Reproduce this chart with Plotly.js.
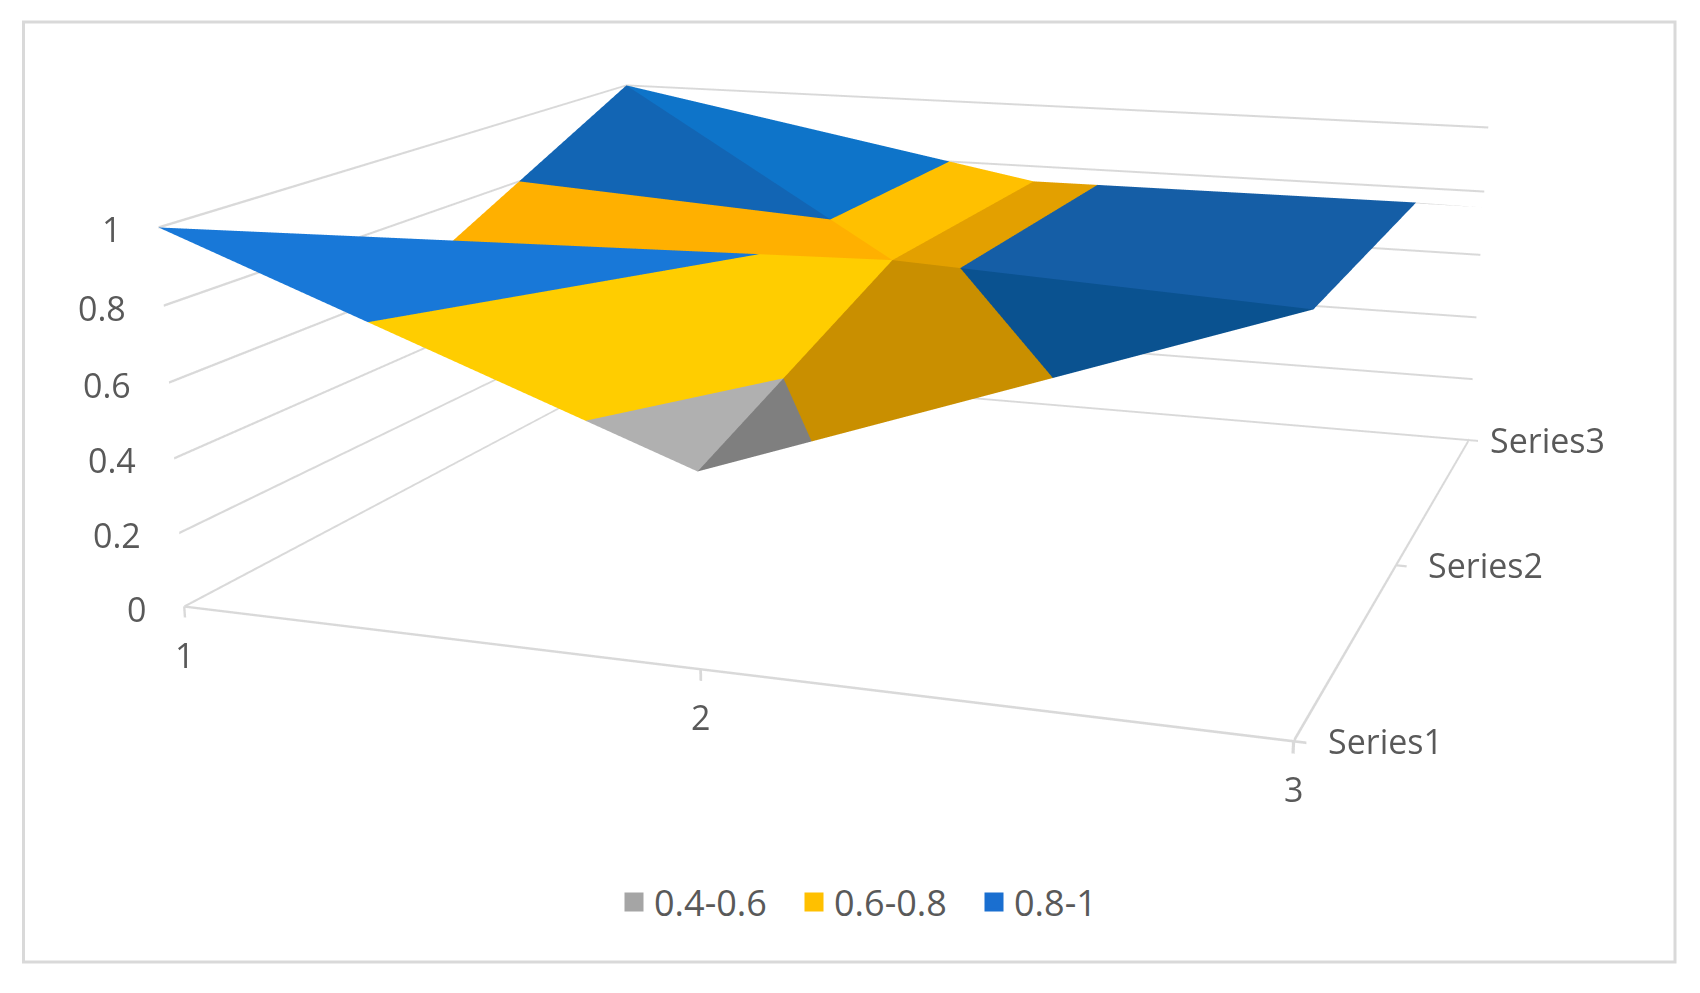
<!DOCTYPE html><html style="height:993px;overflow:hidden"><head><meta charset="utf-8"><script src="https://cdn.plot.ly/plotly-3.0.1.min.js"></script></head><body style="margin:0;background:#fff;height:993px;overflow:hidden;position:relative"><div id="g" style="position:absolute;left:0;top:-669px;width:1700px;height:2331px"></div><script>
const categories=[1,2,3];
const seriesNames=['Series1','Series2','Series3'];
const series1=[1,0.5,1];
const series2=[0.66,0.75,1];
const series3=[1,0.75,0.75];
const zTicks=[0,0.2,0.4,0.6,0.8,1];
const bands=[[0.4,0.6],[0.6,0.8],[0.8,1]];
const bandNames=['0.4-0.6','0.6-0.8','0.8-1'];
const legendColors=['#a5a5a5','#ffc000','#1a6fd0'];
const facets=[
 [[0,0],[1,0],[1,1]],[[0,0],[0,1],[1,1]],
 [[1,0],[2,0],[1,1]],[[1,1],[2,0],[2,1]],
 [[0,1],[0,2],[1,1]],[[0,2],[1,1],[1,2]],
 [[1,1],[2,1],[1,2]],[[1,2],[2,1],[2,2]]];
const facetShades=[
 ['#b0b0b0','#ffcd00','#1878d8'],['#999999','#ffb000','#1265b4'],
 ['#7f7f7f','#c98f00','#0a5290'],['#7f7f7f','#e3a000','#155ea6'],
 ['#999999','#ffb000','#1265b4'],['#b0b0b0','#ffc000','#0e74c9'],
 ['#7f7f7f','#e3a000','#155ea6'],['#dddddd','#dddddd','#dddddd']];
const grid=[series1,series2,series3];
function clip(poly,lim,sign){const out=[];for(let i=0;i<poly.length;i++){const a=poly[i],b=poly[(i+1)%poly.length];const da=sign*(a[2]-lim),db=sign*(b[2]-lim);if(da>=0)out.push(a);if((da>0&&db<0)||(da<0&&db>0)){const t=da/(da-db);out.push([a[0]+t*(b[0]-a[0]),a[1]+t*(b[1]-a[1]),a[2]+t*(b[2]-a[2])]);}}return out;}
const X=[],Y=[],Z=[],I=[],J=[],K=[],FC=[];
facets.forEach((f,fi)=>{const tri=f.map(([c,r])=>[categories[c],r+1,grid[r][c]]);bands.forEach((b,bi)=>{let p=clip(clip(tri,b[0],1),b[1],-1);if(p.length<3)return;const s=X.length;p.forEach(v=>{X.push(v[0]);Y.push(v[1]);Z.push(v[2]);});for(let n=1;n<p.length-1;n++){I.push(s);J.push(s+n);K.push(s+n+1);FC.push(facetShades[fi][bi]);}});});

const H=2331,OFF=669;
const py=y=>1-(y+OFF)/H;
const xA=categories[0],xB=categories[2],yA=1,yB=3;
const xTick=0.02,zTick=0.03,zTop=1.005,pad=0.01;
// grid, floor edges and tick marks as thin ribbons, so that their width holds
const RX=[],RY=[],RZ=[],RI=[],RJ=[],RK=[];
function ribbon(a,b,d){const s=RX.length;[[a,-1],[b,-1],[b,1],[a,1]].forEach(([p,g])=>{RX.push(p[0]+g*d[0]);RY.push(p[1]+g*d[1]);RZ.push(p[2]+g*d[2]);});RI.push(s,s);RJ.push(s+1,s+2);RK.push(s+2,s+3);}
const gridHalf=0.0032,edgeHalf=0.007,tickHalf=0.0025;
zTicks.forEach(t=>{ribbon([xA,yA,t],[xA,yB,t],[0,0,gridHalf]);ribbon([xA,yB,t],[xB,yB,t],[0,0,gridHalf]);});
ribbon([xA,yA,0],[xB,yA,0],[0,0,gridHalf]);
ribbon([xB,yA,0],[xB,yB,0],[0,0,edgeHalf]);
categories.forEach(c=>ribbon([c,yA,0],[c,yA,-zTick],[tickHalf,0,0]));
seriesNames.forEach((s,i)=>ribbon([xB,i+1,0],[xB+xTick,i+1,0],[0,0,gridHalf]));
const flat={ambient:1,diffuse:0,specular:0,roughness:1,fresnel:0};
const axisBase={showgrid:false,zeroline:false,showbackground:false,showspikes:false,showline:false,showticklabels:false,ticks:'',title:{text:''}};
const traces=[
 {type:'mesh3d',x:RX,y:RY,z:RZ,i:RI,j:RJ,k:RK,color:'#d9d9d9',flatshading:true,lighting:flat,hoverinfo:'skip',showlegend:false,showscale:false},
 {type:'mesh3d',x:X,y:Y,z:Z,i:I,j:J,k:K,facecolor:FC,flatshading:true,lighting:flat,hoverinfo:'skip',showlegend:false,showscale:false}];
bandNames.forEach((n,i)=>traces.push({type:'scatter3d',mode:'markers',name:n,x:[null],y:[null],z:[null],marker:{symbol:'square',size:20,color:legendColors[i],line:{width:3,color:legendColors[i]}},showlegend:true,hoverinfo:'skip'}));
const labelFont={family:'Open Sans',size:34,color:'#595959'};
const label=(x,y,z,text,xanchor,xshift,yshift)=>({x,y,z,text,xanchor,yanchor:'middle',xshift,yshift,showarrow:false,font:labelFont});
const yLabelShift=[32,30,19];
const annotations=[
 ...zTicks.map(t=>label(xA,yA,t,String(t),'right',-36,-2)),
 ...categories.map(c=>label(c,yA,0,String(c),'center',0,-48)),
 ...seriesNames.map((s,i)=>label(xB,i+1,0,s,'left',yLabelShift[i],0))];
const layout={width:1700,height:H,margin:{l:0,r:0,t:0,b:0},paper_bgcolor:'#fff',font:{family:'Open Sans',color:'#595959'},
 showlegend:true,legend:{orientation:'h',x:0.52,xanchor:'center',y:py(902),yanchor:'middle',entrywidth:135,font:{family:'Open Sans',size:36,color:'#595959'},itemclick:false,itemdoubleclick:false},
 shapes:[{type:'rect',xref:'paper',yref:'paper',x0:23.5/1700,x1:1675/1700,y0:py(962),y1:py(22),line:{color:'#d9d9d9',width:3}}],
 scene:{domain:{x:[0,1],y:[0,1]},aspectmode:'manual',aspectratio:{x:2.03,y:1.98556,z:0.71042},camera:{eye:{x:1.7349,y:-5.0879,z:1.22838},center:{x:-0.2332,y:0.3921,z:-0.42302},up:{x:0,y:0,z:1}},
  annotations,
  xaxis:{...axisBase,range:[xA-pad,xB+xTick]},
  yaxis:{...axisBase,range:[yA-pad,yB+pad]},
  zaxis:{...axisBase,range:[-zTick,zTop]}}};
Plotly.newPlot('g',traces,layout,{displayModeBar:false,responsive:false});
</script></body></html>
